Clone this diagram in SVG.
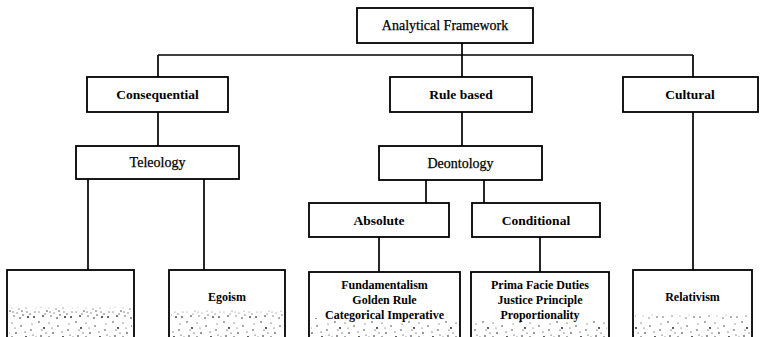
<svg xmlns="http://www.w3.org/2000/svg" width="760" height="337" viewBox="0 0 760 337">
<style>
.box{fill:#fff;stroke:#000;stroke-width:1.8}
.ln{stroke:#000;stroke-width:1.7;fill:none}
.t{font-family:"Liberation Serif","Times New Roman",serif;font-size:14px;fill:#000;text-anchor:middle;stroke:#000;stroke-width:0.25}
.b{font-weight:bold;font-size:13.5px;stroke-width:0}
.lf{font-family:"Liberation Serif","Times New Roman",serif;font-size:12px;font-weight:bold;fill:#000;text-anchor:middle}
.sp{fill:url(#speck)}
</style>
<defs>
<pattern id="speck" x="0" y="0" width="37" height="29" patternUnits="userSpaceOnUse">
<g fill="#111">
<circle cx="2" cy="3" r="0.7"/><circle cx="7" cy="9" r="0.9"/><circle cx="12" cy="4" r="0.6"/><circle cx="16" cy="14" r="0.8"/>
<circle cx="21" cy="7" r="0.7"/><circle cx="26" cy="18" r="0.9"/><circle cx="31" cy="11" r="0.7"/><circle cx="35" cy="22" r="0.8"/>
<circle cx="4" cy="17" r="0.8"/><circle cx="10" cy="21" r="1"/><circle cx="14" cy="26" r="0.7"/><circle cx="19" cy="19" r="0.9"/>
<circle cx="23" cy="25" r="0.8"/><circle cx="28" cy="27" r="1"/><circle cx="33" cy="16" r="0.6"/><circle cx="6" cy="26" r="0.9"/>
<circle cx="17" cy="23" r="0.7"/><circle cx="30" cy="24" r="0.8"/><circle cx="2" cy="22" r="0.7"/><circle cx="25" cy="13" r="0.6"/>
<circle cx="9" cy="14" r="0.6"/><circle cx="34" cy="27" r="0.9"/><circle cx="12" cy="18" r="0.7"/><circle cx="20" cy="28" r="0.8"/>
<circle cx="5" cy="11" r="0.6"/><circle cx="15" cy="9" r="0.5"/><circle cx="27" cy="22" r="0.8"/><circle cx="32" cy="5" r="0.5"/>
<circle cx="8" cy="24" r="0.7"/><circle cx="22" cy="21" r="0.9"/><circle cx="36" cy="18" r="0.6"/><circle cx="13" cy="22" r="0.8"/>
</g>
</pattern>
<linearGradient id="fade" x1="0" y1="0" x2="0" y2="1">
<stop offset="0" stop-color="#fff" stop-opacity="0.9"/><stop offset="1" stop-color="#fff" stop-opacity="0"/>
</linearGradient>
</defs>

<g id="connectors">
<line class="ln" x1="158" y1="55" x2="693" y2="55"/>
<line class="ln" x1="462" y1="43" x2="462" y2="77"/>
<line class="ln" x1="158" y1="55" x2="158" y2="77"/>
<line class="ln" x1="693" y1="55" x2="693" y2="77"/>
<line class="ln" x1="158" y1="112" x2="158" y2="146"/>
<line class="ln" x1="88" y1="179" x2="88" y2="270"/>
<line class="ln" x1="204" y1="179" x2="204" y2="270"/>
<line class="ln" x1="462" y1="112" x2="462" y2="146"/>
<line class="ln" x1="426" y1="180" x2="426" y2="203"/>
<line class="ln" x1="484" y1="180" x2="484" y2="203"/>
<line class="ln" x1="379" y1="237" x2="379" y2="272"/>
<line class="ln" x1="540" y1="237" x2="540" y2="272"/>
<line class="ln" x1="693" y1="112" x2="693" y2="270"/>
</g>

<g id="analytical-framework">
<rect class="box" x="357" y="8" width="176" height="35"/>
<text class="t" x="445" y="30">Analytical Framework</text>
</g>
<g id="consequential">
<rect class="box" x="87" y="77" width="141" height="35"/>
<text class="t b" x="157.5" y="99">Consequential</text>
</g>
<g id="rule-based">
<rect class="box" x="390" y="77" width="142" height="35"/>
<text class="t b" x="461" y="99">Rule based</text>
</g>
<g id="cultural">
<rect class="box" x="623" y="77" width="135" height="35"/>
<text class="t b" x="690" y="99">Cultural</text>
</g>
<g id="teleology">
<rect class="box" x="76" y="146" width="163" height="33"/>
<text class="t" x="157.5" y="167">Teleology</text>
</g>
<g id="deontology">
<rect class="box" x="379" y="146" width="163" height="34"/>
<text class="t" x="460.5" y="168">Deontology</text>
</g>
<g id="absolute">
<rect class="box" x="309" y="203" width="140" height="34"/>
<text class="t b" x="379" y="225">Absolute</text>
</g>
<g id="conditional">
<rect class="box" x="472" y="203" width="128" height="34"/>
<text class="t b" x="536" y="225">Conditional</text>
</g>

<g id="leaf-empty">
<rect class="box" x="7" y="270" width="127" height="80"/>
<rect class="sp" x="9" y="306" width="123" height="31"/>
<rect fill="url(#fade)" x="9" y="306" width="123" height="12"/>
</g>
<g id="egoism">
<rect class="box" x="169" y="270" width="116" height="80"/>
<rect class="sp" x="171" y="310" width="112" height="27"/>
<rect fill="url(#fade)" x="171" y="310" width="112" height="10"/>
<text class="lf" x="227" y="301">Egoism</text>
</g>
<g id="absolute-list">
<rect class="box" x="309" y="272" width="151" height="80"/>
<rect class="sp" x="311" y="318" width="147" height="19"/>
<text class="lf" x="384.5" y="289">Fundamentalism</text>
<text class="lf" x="384.5" y="304">Golden Rule</text>
<text class="lf" x="384.5" y="319">Categorical Imperative</text>
</g>
<g id="conditional-list">
<rect class="box" x="471" y="272" width="138" height="80"/>
<rect class="sp" x="473" y="318" width="134" height="19"/>
<text class="lf" x="540" y="289">Prima Facie Duties</text>
<text class="lf" x="540" y="304">Justice Principle</text>
<text class="lf" x="540" y="319">Proportionality</text>
</g>
<g id="relativism">
<rect class="box" x="633" y="270" width="119" height="80"/>
<rect class="sp" x="635" y="314" width="115" height="23"/>
<rect fill="url(#fade)" x="635" y="314" width="115" height="8"/>
<text class="lf" x="692.5" y="301">Relativism</text>
</g>
</svg>
